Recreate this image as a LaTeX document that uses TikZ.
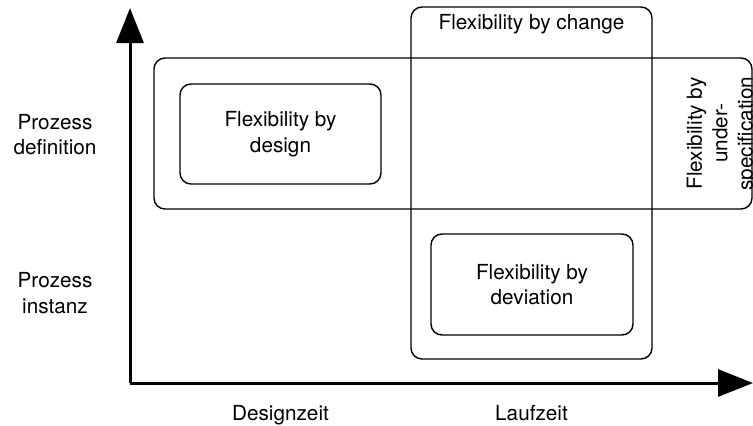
\documentclass[tikz,border=0pt]{standalone}
\usepackage{fontspec}
\setmainfont{TeX Gyre Heros}
\usetikzlibrary{arrows.meta}
\begin{document}
\begin{tikzpicture}[x=1bp,y=-1bp,
  box/.style={draw, line width=1.4bp, rounded corners=11bp, inner sep=0pt},
  txt/.style={align=center, font=\fontsize{20.8}{25.5}\selectfont, inner sep=0pt},
  axis/.style={draw, line width=3bp, -{Triangle[length=35bp,width=27bp]}}]
\useasboundingbox (0,0) rectangle (753,425);
\clip (0,0) rectangle (753,425);

\node[box, minimum width=598bp, minimum height=151bp] (under) at (453,133.5) {};
\node[box, minimum width=241bp, minimum height=352bp] (change) at (531.5,183) {};
\node[box, minimum width=201bp, minimum height=100bp] (design) at (280.5,134) {};
\node[box, minimum width=202bp, minimum height=101bp] (deviation) at (532,284.5) {};

\node[txt] (designtxt) at (design) {Flexibility by\\design};
\node[txt] (deviationtxt) at (deviation) {Flexibility by\\deviation};
\node[txt, anchor=base] (changetxt) at (531.5,29) {Flexibility by change};
\node[txt, rotate=90] (undertxt) at (722,133.5) {Flexibility by\\under-\\specification};

\node[txt] (definition) at (55,134.5) {Prozess\\definition};
\node[txt] (instanz) at (55,293) {Prozess\\instanz};
\node[txt, anchor=base] (designzeit) at (280.5,420) {Designzeit};
\node[txt, anchor=base] (laufzeit) at (531.5,420) {Laufzeit};

\coordinate (origin) at (130,383);
\coordinate (ytip) at (130,8);
\coordinate (xtip) at (753,383);
\path[axis] (origin) -- (ytip);
\path[axis] (origin) -- (xtip);
\end{tikzpicture}
\end{document}
